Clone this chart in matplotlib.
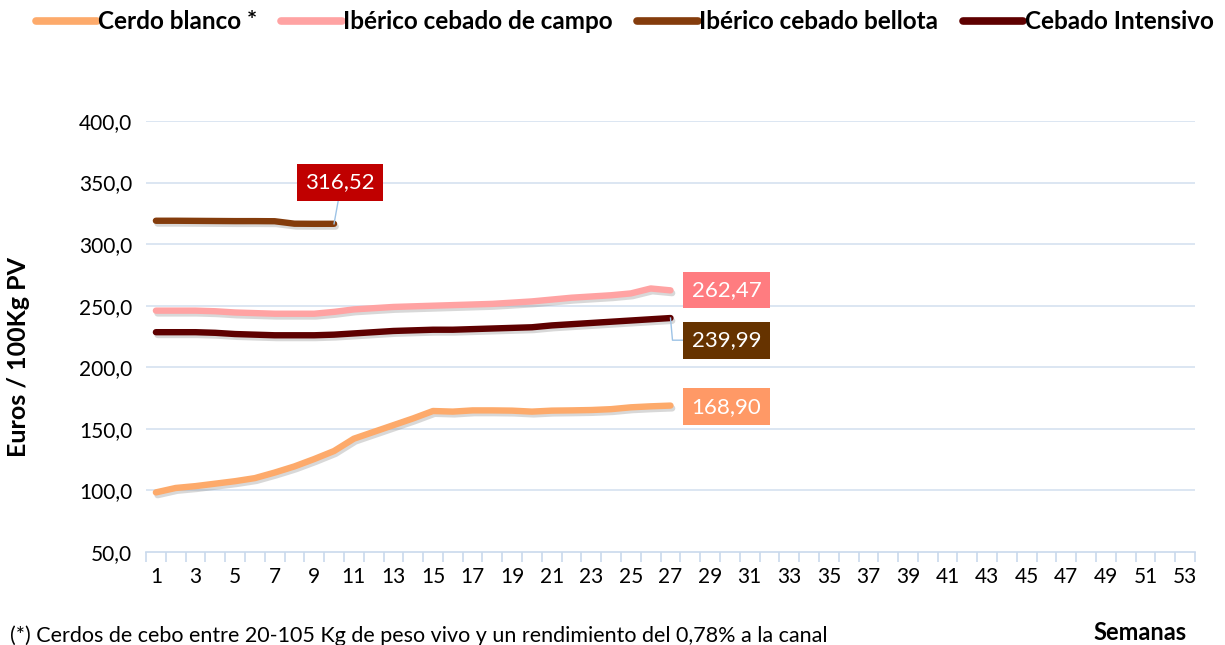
import matplotlib
matplotlib.use("Agg")
import matplotlib.pyplot as plt
import matplotlib.patheffects as pe
import numpy as np

plt.rcParams['font.family'] = ['Lato', 'DejaVu Sans']

weeks_all = list(range(1, 54))
xtick_labels = [str(w) for w in range(1, 54, 2)]
yticks = [50, 100, 150, 200, 250, 300, 350, 400]

series_names = ["Cerdo blanco *", "Ibérico cebado de campo",
                "Ibérico cebado bellota", "Cebado Intensivo"]
series_colors = ["#FDAA6B", "#FFA3A3", "#843C0C", "#5E0000"]

cerdo_blanco = [98.4, 102.0, 103.5, 105.5, 107.5, 110.0, 114.5, 119.5, 125.5, 132.0,
                142.0, 147.5, 153.0, 158.5, 164.5, 164.0, 165.0, 165.0, 164.8, 164.0,
                164.8, 165.0, 165.3, 166.0, 167.5, 168.3, 168.90]
iberico_campo = [246.0, 246.0, 246.0, 245.5, 244.5, 244.0, 243.5, 243.5, 243.5, 245.0,
                 247.0, 248.0, 249.0, 249.5, 250.0, 250.5, 251.0, 251.5, 252.5, 253.5,
                 255.0, 256.5, 257.5, 258.5, 260.0, 264.0, 262.47]
iberico_bellota = [319.0, 319.0, 318.9, 318.8, 318.7, 318.7, 318.6, 316.6, 316.5, 316.52]
cebado_intensivo = [228.5, 228.5, 228.5, 228.0, 227.0, 226.5, 226.0, 226.0, 226.0, 226.5,
                    227.5, 228.5, 229.5, 230.0, 230.5, 230.5, 231.0, 231.5, 232.0, 232.5,
                    234.0, 235.0, 236.0, 237.0, 238.0, 239.0, 239.99]

series_data = [cerdo_blanco, iberico_campo, iberico_bellota, cebado_intensivo]

label_texts = ["168,90", "262,47", "316,52", "239,99"]
label_colors = ["#FF9966", "#FF7C80", "#C00000", "#663300"]

fig = plt.figure(figsize=(12.25, 6.45), dpi=100)
ax = fig.add_axes([146/1225, (645-552)/645, (1195-146)/1225, (552-121)/645])

ax.set_xlim(0.5, 53.5)
ax.set_ylim(50, 400)

grid_color = "#D6E2F0"
ax.set_yticks(yticks)
ax.set_yticklabels([f"{v:.1f}".replace(".", ",") for v in yticks], fontsize=15)
for v in yticks[1:]:
    ax.axhline(v, color=grid_color, lw=1.2, zorder=0)

ax.set_xticks(list(range(1, 54, 2)))
ax.set_xticklabels(xtick_labels, fontsize=15)
ax.tick_params(axis='x', length=0, pad=11)
ax.tick_params(axis='y', length=0, pad=10)
ax.set_xticks(np.arange(0.5, 54, 1), minor=True)
ax.tick_params(axis='x', which='minor', length=7, color="#C9D9EC", width=1.2)

for s in ['top', 'right', 'left']:
    ax.spines[s].set_visible(False)
ax.spines['bottom'].set_color("#C9D9EC")
ax.spines['bottom'].set_linewidth(1.2)

shadow = [pe.SimpleLineShadow(offset=(1.2, -2.0), shadow_color='gray', alpha=0.3),
          pe.Normal()]

lines = []
for name, data, col in zip(series_names, series_data, series_colors):
    x = weeks_all[:len(data)]
    ln, = ax.plot(x, data, color=col, lw=4.6, solid_capstyle='round',
                  solid_joinstyle='round', path_effects=shadow, zorder=3, label=name)
    lines.append(ln)

def box_label(xv, yv, text, color):
    ax.text(xv, yv, text, color='white', fontsize=16, ha='center', va='center',
            bbox=dict(boxstyle='square,pad=0.38', fc=color, ec='none'), zorder=5)

leader = "#9DC3E6"
box_label(29.83, 167.8, label_texts[0], label_colors[0])
box_label(29.83, 262.8, label_texts[1], label_colors[1])
ax.plot([10, 10.3], [316.5, 343], color=leader, lw=1, zorder=4)
box_label(10.3, 350.0, label_texts[2], label_colors[2])
ax.plot([27, 27.1, 28.0], [239.99, 222.0, 222.0], color=leader, lw=1, zorder=4)
box_label(29.83, 222.0, label_texts[3], label_colors[3])

fig.text(19/1225, 1 - 357/645, "Euros / 100Kg PV", fontsize=18, fontweight='bold',
         rotation=90, ha='center', va='center')

fig.text(1140/1225, 1 - 633/645, "Semanas", fontsize=17, fontweight='bold',
         ha='center', va='center')
fig.text(10/1225, 1 - 636/645, "(*) Cerdos de cebo entre 20-105 Kg de peso vivo y un rendimiento del 0,78% a la canal",
         fontsize=15.5, ha='left', va='center')

leg = fig.legend(handles=lines, loc='upper center', bbox_to_anchor=(0.51, 1.018),
                 ncol=4, frameon=False, prop={'weight': 'bold', 'size': 17.5},
                 handlelength=2.5, handletextpad=0.05, columnspacing=1.0)
for h in leg.legend_handles:
    h.set_path_effects([])
    h.set_linewidth(5.5)
    h.set_solid_capstyle('round')

fig.savefig("out.png", dpi=100)
